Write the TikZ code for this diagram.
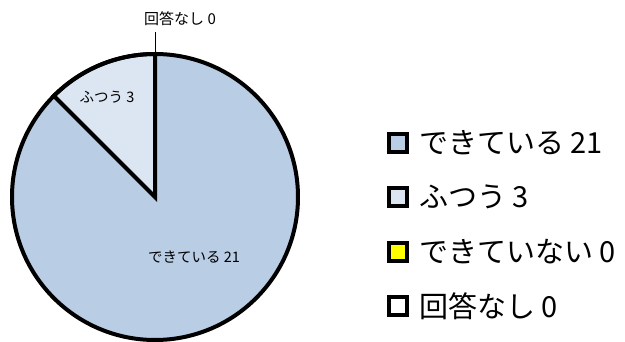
\documentclass[tikz,border=0pt]{standalone}
\usepackage{fontspec}
\newfontfamily\jpfont{Noto Sans CJK JP}
\usetikzlibrary{positioning}

\definecolor{dekiru}{HTML}{B9CDE5}
\definecolor{futsu}{HTML}{DCE6F2}
\definecolor{dekinai}{HTML}{FFFF00}

\tikzset{
    slice/.style={draw=black, line width=4pt, line join=miter},
    leader/.style={draw=black, line width=1pt},
    keybox/.style={draw=black, line width=4pt, minimum size=18pt, inner sep=0pt},
    keytext/.style={anchor=west, inner sep=0pt, font=\jpfont\fontsize{29}{29}\selectfont},
    pietext/.style={inner sep=0pt, font=\jpfont\fontsize{14.5}{14.5}\selectfont}
}

\begin{document}
\begin{tikzpicture}[x=1pt, y=1pt]
            \useasboundingbox (0,0) rectangle (625,-342);

            % pie
            \coordinate (c) at (155,-197);
            \fill[dekiru] (c) circle (143pt);
            \draw[slice, fill=futsu] (c) -- ++(90:143pt) arc (90:135:143pt) -- cycle;
            \draw[slice] (c) circle (143pt);

            \node[pietext] (futsulabel) at (107,-97) {ふつう 3};
            \node[pietext] (dekirulabel) at (194,-257) {できている 21};

            \node[pietext, font=\jpfont\fontsize{15}{15}\selectfont] (nashilabel) at (180,-19) {回答なし 0};
            \coordinate (pietop) at (155,-56);
            \coordinate (leadend) at (155,-32);
            \draw[leader] (pietop) -- (leadend);

            % legend
            \node[keybox, fill=dekiru] (key1) at (398,-143) {};
            \node[keybox, fill=futsu] (key2) at (398,-197) {};
            \node[keybox, fill=dekinai] (key3) at (398,-252) {};
            \node[keybox, fill=white] (key4) at (398,-306) {};
            \node[keytext, right=10pt of key1] (lab1) {できている 21};
            \node[keytext, right=10pt of key2] (lab2) {ふつう 3};
            \node[keytext, right=10pt of key3] (lab3) {できていない 0};
            \node[keytext, right=10pt of key4] (lab4) {回答なし 0};
        \end{tikzpicture}
\end{document}
